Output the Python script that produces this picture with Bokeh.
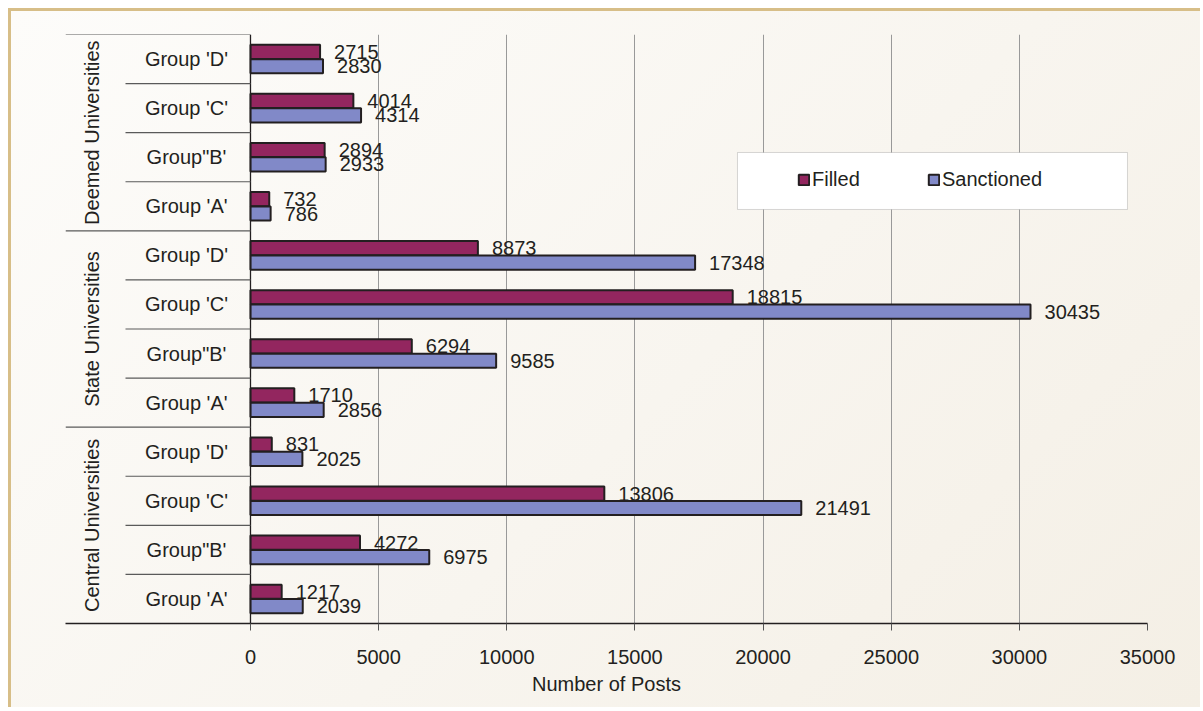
import math
from bokeh.plotting import figure
from bokeh.models import (Range1d, FixedTicker, ColumnDataSource, BoxAnnotation,
                          Legend, LegendItem, NumeralTickFormatter)
from bokeh.core.properties import value
from bokeh.embed import file_html
from bokeh.resources import INLINE

# ---- data (bottom to top) ----
groups = ["Central Universities", "State Universities", "Deemed Universities"]
subgroups = ["Group 'A'", "Group\"B'", "Group 'C'", "Group 'D'"]
filled = [1217, 4272, 13806, 831,
          1710, 6294, 18815, 8873,
          732, 2894, 4014, 2715]
sanctioned = [2039, 6975, 21491, 2025,
              2856, 9585, 30435, 17348,
              786, 2933, 4314, 2830]
x_ticks = [0, 5000, 10000, 15000, 20000, 25000, 30000, 35000]

FONT = "Liberation Sans"
FS = "20px"
TXT = "#231f20"
MAROON = "#93265f"
BLUE = "#8189c8"

n = len(filled)
rows = list(range(n))
labels = [subgroups[i % 4] for i in rows]

XMIN = -7218
p = figure(width=1192, height=699, x_range=Range1d(XMIN, 35000), y_range=Range1d(0, n),
           output_backend="svg", toolbar_location=None, y_axis_location=None,
           min_border_left=54, min_border_top=23, min_border_right=56, min_border_bottom=87)
p.background_fill_alpha = 0
p.border_fill_alpha = 0
p.outline_line_color = None
p.styles = {"background": "linear-gradient(135deg, #fdfcfa 0%, #f8f5ef 55%, #f4efe5 100%)",
            "border-top": "3px solid #d7be88", "border-left": "3px solid #d7be88",
            "margin-top": "8px", "margin-left": "8px"}

# grid
p.ygrid.visible = False
p.xgrid.ticker = FixedTicker(ticks=x_ticks[1:])
p.xgrid.grid_line_color = "#999999"
p.xgrid.grid_line_width = 1

# x axis
ax = p.xaxis[0]
ax.ticker = FixedTicker(ticks=x_ticks)
ax.formatter = NumeralTickFormatter(format="0")
ax.major_tick_out = 7
ax.major_tick_in = 0
ax.minor_tick_line_color = None
ax.axis_line_color = TXT
ax.axis_line_width = 1.3
ax.major_tick_line_color = "#555555"
ax.major_label_text_font = FONT
ax.major_label_text_font_size = FS
ax.major_label_text_color = TXT
ax.major_label_standoff = 19
ax.axis_label = "Number of Posts"
ax.axis_label_text_font = FONT
ax.axis_label_text_font_size = FS
ax.axis_label_text_font_style = "normal"
ax.axis_label_text_color = TXT
ax.axis_label_standoff = 6

# bars
BH = 0.29
OFF = 0.147
src = ColumnDataSource(dict(
    yf=[r + 0.5 + OFF for r in rows], ys=[r + 0.5 - OFF for r in rows],
    filled=filled, sanctioned=sanctioned,
    lf=[str(v) for v in filled], ls=[str(v) for v in sanctioned]))

rf = p.hbar(y="yf", right="filled", left=0, height=BH, source=src,
            fill_color=MAROON, line_color=TXT, line_width=2)
rs = p.hbar(y="ys", right="sanctioned", left=0, height=BH, source=src,
            fill_color=BLUE, line_color=TXT, line_width=2)

p.text(x="filled", y="yf", text="lf", source=src, x_offset=14,
       text_align="left", text_baseline="middle", text_font=value(FONT),
       text_font_size=FS, text_color=TXT)
p.text(x="sanctioned", y="ys", text="ls", source=src, x_offset=14,
       text_align="left", text_baseline="middle", text_font=value(FONT),
       text_font_size=FS, text_color=TXT)

# left category axis (drawn)
p.segment(x0=[0], y0=[0], x1=[0], y1=[n], line_color=TXT, line_width=1.3)
SUB_X0 = -4877
sep_y = list(range(1, n + 1))
sep_x0 = [XMIN if (y % 4 == 0) else SUB_X0 for y in sep_y]
p.segment(x0=sep_x0, y0=sep_y, x1=[0] * len(sep_y), y1=sep_y,
          line_color="#5a5a5a", line_width=1.2)

p.text(x=[-2497] * n, y=[r + 0.5 for r in rows], text=labels,
       text_align="center", text_baseline="middle", text_font=value(FONT),
       text_font_size=FS, text_color=TXT)
p.text(x=[-6165] * 3, y=[2, 6, 10], text=groups, angle=math.pi / 2,
       text_align="center", text_baseline="middle", text_font=value(FONT),
       text_font_size=FS, text_color=TXT)

# legend box
p.add_layout(BoxAnnotation(left=19002, right=34219, bottom=8.435, top=9.596,
                           fill_color="white", fill_alpha=1, line_color="#7f7f7f",
                           line_width=1, level="overlay"))
leg = Legend(items=[LegendItem(label="Filled", renderers=[rf]),
                    LegendItem(label="Sanctioned", renderers=[rs])],
             orientation="horizontal", location=(732, 432), padding=0, margin=0,
             spacing=0, glyph_width=13, glyph_height=13, label_standoff=2,
             label_width=115, label_text_font=FONT, label_text_font_size=FS,
             label_text_color=TXT, border_line_alpha=0, background_fill_alpha=0)
p.add_layout(leg, "center")

open("out.html", "w").write(file_html(p, INLINE))
